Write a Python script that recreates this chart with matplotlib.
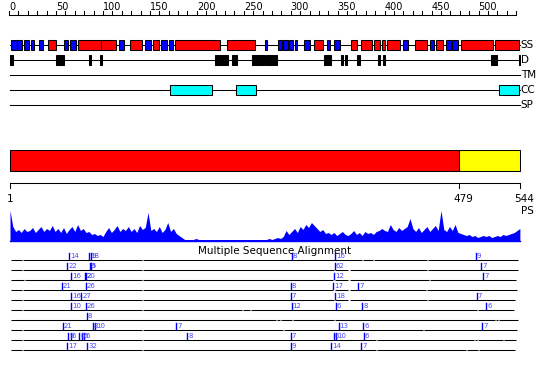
import matplotlib
matplotlib.use("Agg")
import matplotlib.pyplot as plt
from matplotlib.patches import Rectangle

# protein length and per-residue features (residue numbers)
seq_len = 544
domain_parts = [(1, 479), (479, 544)]
domain_colors = ["#ff0000", "#ffff00"]

helices = [(42, 50), (73, 98), (98, 114), (129, 142), (153, 160), (177, 225),
           (232, 262), (325, 334), (364, 371), (375, 386), (389, 395), (397, 400),
           (402, 416), (432, 445), (455, 462), (481, 515), (518, 543)]
strands = [(2, 8), (8, 14), (16, 21), (23, 27), (32, 36), (59, 63), (65, 71),
           (117, 122), (145, 151), (162, 168), (170, 175), (273, 275), (286, 291),
           (292, 297), (298, 302), (304, 307), (314, 320), (339, 342), (346, 352),
           (419, 425), (448, 453), (465, 471), (472, 478)]
disorder = [(1, 4), (50, 58), (85, 87), (97, 99), (219, 233), (237, 243), (259, 273),
            (274, 285), (335, 343), (354, 356), (358, 360), (371, 374), (393, 395),
            (398, 400), (513, 520), (543, 544)]
coiled = [(171, 216), (242, 263), (522, 543)]
track_names = ["SS", "D", "TM", "CC", "SP"]

# PS profile, one value every 3 residues starting at residue 1
ps_res = list(range(1, seq_len + 1, 3))
ps_val = [30, 14, 9, 11, 8, 12, 9,
          10, 13, 8, 11, 14, 9, 12,
          10, 15, 9, 12, 8, 13, 7,
          11, 14, 9, 16, 10, 12, 8,
          9, 6, 7, 5, 6, 4, 9,
          13, 8, 11, 15, 9, 12, 10,
          14, 9, 12, 8, 15, 11, 13,
          28, 10, 12, 9, 14, 8, 11,
          18, 9, 12, 7, 5, 3, 1,
          1, 1, 1, 2, 1, 1, 1, 1, 1, 1,
          1, 1, 1, 1, 1, 1, 1, 1, 1, 1,
          1, 1, 1, 1, 1, 1, 1, 1, 1, 2,
          1, 2, 3, 2, 4, 10, 6,
          9, 12, 8, 14, 11, 16, 13,
          18, 15, 12, 9, 11, 7, 8,
          6, 8, 5, 7, 9, 6, 5,
          7, 10, 6, 8, 5, 9, 7,
          8, 6, 9, 10, 12, 10, 9,
          16, 11, 9, 13, 10, 12, 14,
          22, 12, 9, 13, 8, 11, 14,
          9, 12, 15, 10, 30, 11, 9,
          14, 10, 16, 8, 7, 6, 5,
          6, 4, 5, 3, 4, 5, 4,
          5, 3, 4, 5, 4, 6, 5,
          6, 7, 8, 10, 12]

# multiple sequence alignment rows: markers (residue, label) and line breaks
msa_markers = [
    [(64, "14"), (85, "18"), (87, "9"), (301, "8"), (347, "16"), (497, "9")],
    [(62, "22"), (86, "9"), (87, "5"), (347, "62"), (503, "7")],
    [(66, "16"), (81, "20"), (82, "2"), (346, "12"), (505, "7")],
    [(56, "21"), (82, "26"), (300, "8"), (345, "17"), (372, "7")],
    [(66, "16"), (77, "27"), (300, "7"), (347, "18"), (498, "7")],
    [(66, "10"), (82, "26"), (301, "12"), (348, "6"), (376, "8"), (508, "6")],
    [(83, "8")],
    [(57, "21"), (89, "8"), (92, "10"), (178, "7"), (351, "13"), (377, "6"), (504, "7")],
    [(63, "9"), (66, "6"), (75, "6"), (78, "5"), (80, "6"), (190, "8"), (300, "7"),
     (346, "6"), (348, "10"), (378, "6")],
    [(62, "17"), (83, "32"), (300, "9"), (343, "14"), (375, "7")],
]
msa_breaks = [
    [1, 14, 142, 376, 388, 446, 543],
    [1, 14, 142, 347, 362, 446, 543],
    [1, 16, 142, 346, 362, 448, 540],
    [1, 14, 142, 346, 362, 445, 542],
    [1, 14, 142, 347, 362, 446, 539],
    [1, 14, 142, 249, 257, 499, 538],
    [1, 285, 289, 302, 347, 518, 521, 543],
    [1, 14, 142, 292, 441, 542],
    [1, 14, 142, 391, 496, 499, 527, 540],
    [1, 14, 142, 391, 487, 500, 539],
]

px = 0.939  # pixels per residue
fig = plt.figure(figsize=(5.5, 3.8), dpi=100)
ax = fig.add_axes([0, 0, 1, 1])
ax.set_xlim(1 - 10 / px, 1 + 540 / px)
ax.set_ylim(380, 0)
ax.axis("off")
lw = 0.75

# top ruler
ax.plot([0, 540], [15, 15], color="black", lw=lw)
for t in range(0, 541, 10):
    ax.plot([t, t], [10.5, 15], color="black", lw=lw)
    if t % 50 == 0:
        ax.text(t, 10.5, str(t), ha="left", va="baseline", fontsize=7)

# feature tracks
track_y = [45, 60, 75, 90, 105]
for name, y in zip(track_names, track_y):
    ax.plot([1, seq_len], [y, y], color="black", lw=lw)
    ax.text(seq_len + 1, y, name, ha="left", va="center", fontsize=7.5)


def boxes(segs, y, color, h=10):
    for s, e in segs:
        ax.add_patch(Rectangle((s, y - h / 2), e - s, h, facecolor=color,
                               edgecolor="black", lw=lw, zorder=3))


boxes(helices, 45, "#ff0000")
boxes(strands, 45, "#0000ff")
boxes(disorder, 60, "black")
boxes(coiled, 90, "#00ffff")

# domain bar
for (s, e), c in zip(domain_parts, domain_colors):
    ax.add_patch(Rectangle((s, 150), e - s, 21, facecolor=c, edgecolor="black", lw=lw))

# bottom ruler
ax.plot([1, seq_len], [183, 183], color="black", lw=lw)
for t in [1, 479, 544]:
    ax.plot([t, t], [183, 188], color="black", lw=lw)
    ax.annotate(str(t), (t, 202), xytext=(3 if t > 1 else 0, 0),
                textcoords="offset points", ha="center", va="baseline", fontsize=7.5)

# PS profile
base = 240.5
ax.fill_between(ps_res, [base - v for v in ps_val], base, color="#0000ff", lw=0)
ax.plot([1, seq_len], [base, base], color="#0000ff", lw=1)
ax.text(seq_len + 1, 211, "PS", ha="left", va="center", fontsize=7.5)

# MSA
ax.text(1 + 265 / px, 251, "Multiple Sequence Alignment", ha="center", va="center",
        fontsize=7.5)
for i, (marks, brk) in enumerate(zip(msa_markers, msa_breaks)):
    y = 260 + 10 * i
    for s, e in zip(brk[:-1], brk[1:]):
        ax.plot([s + 0.6, e - 0.6], [y, y], color="black", lw=lw, solid_capstyle="butt")
    for r, lab in marks:
        ax.plot([r, r], [y - 7, y - 1], color="#0000ff", lw=1)
        ax.text(r + 1, y - 7.5, lab, ha="left", va="top", fontsize=5,
                color="#4a4aff")

fig.savefig("out.png", dpi=100)
